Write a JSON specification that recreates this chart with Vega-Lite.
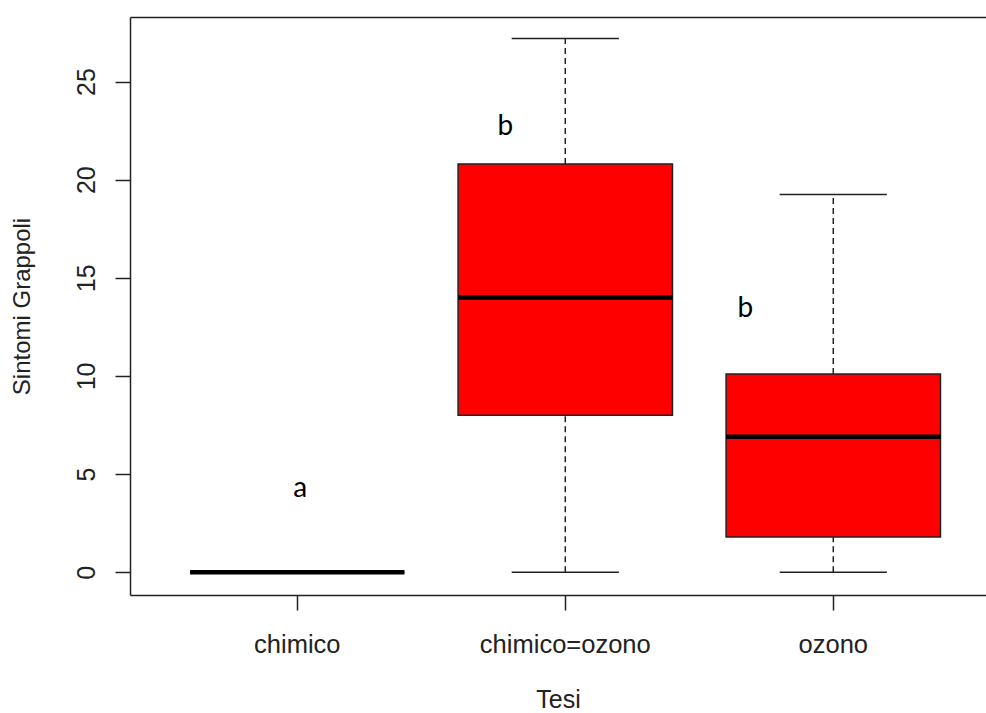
{
  "$schema": "https://vega.github.io/schema/vega-lite/v6.json",
  "autosize": {"type": "none"},
  "padding": {"left": 130, "top": 17, "right": 0, "bottom": 118},
  "width": 856,
  "height": 578,
  "background": "white",
  "datasets": {
    "boxes": [
      {"tesi": "chimico", "min": 0, "q1": 0, "median": 0, "q3": 0, "max": 0},
      {"tesi": "chimico=ozono", "min": 0, "q1": 8, "median": 14, "q3": 20.8, "max": 27.2},
      {"tesi": "ozono", "min": 0, "q1": 1.8, "median": 6.9, "q3": 10.1, "max": 19.25}
    ],
    "letters": [
      {"tesi": "chimico", "letter": "a", "y": 3.84},
      {"tesi": "chimico=ozono", "letter": "b", "y": 22.28},
      {"tesi": "ozono", "letter": "b", "y": 13.02}
    ]
  },
  "resolve": {"axis": {"x": "independent"}},
  "layer": [
    {
      "data": {"name": "boxes"},
      "mark": {"type": "rule", "color": "#222", "strokeWidth": 1.5, "strokeDash": [6, 4]},
      "encoding": {
        "x": {"field": "tesi", "type": "nominal", "sort": null,
              "scale": {"type": "band", "paddingInner": 0, "paddingOuter": 0.097, "align": 0.64},
              "axis": {"orient": "bottom", "title": "Tesi", "labelAngle": 0, "labelPadding": 22, "titlePadding": 30, "labelFontSize": 25.5, "titleFontSize": 25}},
        "y": {"field": "min", "type": "quantitative", "title": "Sintomi Grappoli",
              "scale": {"domain": [-1.16, 28.29], "nice": false, "zero": false},
              "axis": {"values": [0, 5, 10, 15, 20, 25], "labelAngle": 270, "labelAlign": "center", "labelBaseline": "bottom", "labelPadding": 16, "titlePadding": 40, "labelFontSize": 25}},
        "y2": {"field": "q1"}
      }
    },
    {
      "data": {"name": "boxes"},
      "mark": {"type": "rule", "color": "#222", "strokeWidth": 1.5, "strokeDash": [6, 4]},
      "encoding": {
        "x": {"field": "tesi", "type": "nominal", "sort": null,
              "axis": {"orient": "top", "ticks": false, "labels": false, "title": null, "domain": true}},
        "y": {"field": "q3", "type": "quantitative", "title": "Sintomi Grappoli"},
        "y2": {"field": "max"}
      }
    },
    {
      "data": {"name": "boxes"},
      "mark": {"type": "bar", "width": {"band": 0.4}, "fill": null, "fillOpacity": 0, "stroke": "#222", "strokeWidth": 1.5},
      "encoding": {
        "x": {"field": "tesi", "type": "nominal", "sort": null, "axis": null},
        "y": {"field": "min", "type": "quantitative", "title": "Sintomi Grappoli"},
        "y2": {"field": "min"}
      }
    },
    {
      "data": {"name": "boxes"},
      "mark": {"type": "bar", "width": {"band": 0.4}, "fill": null, "fillOpacity": 0, "stroke": "#222", "strokeWidth": 1.5},
      "encoding": {
        "x": {"field": "tesi", "type": "nominal", "sort": null, "axis": null},
        "y": {"field": "max", "type": "quantitative", "title": "Sintomi Grappoli"},
        "y2": {"field": "max"}
      }
    },
    {
      "data": {"name": "boxes"},
      "mark": {"type": "bar", "width": {"band": 0.8}, "fill": "#FF0000", "stroke": "#222", "strokeWidth": 1.5},
      "encoding": {
        "x": {"field": "tesi", "type": "nominal", "sort": null, "axis": null},
        "y": {"field": "q1", "type": "quantitative", "title": "Sintomi Grappoli"},
        "y2": {"field": "q3"}
      }
    },
    {
      "data": {"name": "boxes"},
      "mark": {"type": "bar", "width": {"band": 0.8}, "fill": null, "fillOpacity": 0, "stroke": "#000", "strokeWidth": 4.5},
      "encoding": {
        "x": {"field": "tesi", "type": "nominal", "sort": null, "axis": null},
        "y": {"field": "median", "type": "quantitative", "title": "Sintomi Grappoli"},
        "y2": {"field": "median"}
      }
    },
    {
      "data": {"name": "letters"},
      "transform": [{"filter": "datum.letter === 'a'"}],
      "mark": {"type": "text", "font": "Lato", "fontSize": 28, "color": "#000", "baseline": "alphabetic", "align": "center", "dx": 3},
      "encoding": {
        "x": {"field": "tesi", "type": "nominal", "sort": null, "axis": null},
        "y": {"field": "y", "type": "quantitative", "title": "Sintomi Grappoli"},
        "text": {"field": "letter"}
      }
    },
    {
      "data": {"name": "letters"},
      "transform": [{"filter": "datum.tesi === 'chimico=ozono'"}],
      "mark": {"type": "text", "font": "Lato", "fontSize": 28, "color": "#000", "baseline": "alphabetic", "align": "center", "dx": -60},
      "encoding": {
        "x": {"field": "tesi", "type": "nominal", "sort": null, "axis": null},
        "y": {"field": "y", "type": "quantitative", "title": "Sintomi Grappoli"},
        "text": {"field": "letter"}
      }
    },
    {
      "data": {"name": "letters"},
      "transform": [{"filter": "datum.tesi === 'ozono'"}],
      "mark": {"type": "text", "font": "Lato", "fontSize": 28, "color": "#000", "baseline": "alphabetic", "align": "center", "dx": -88},
      "encoding": {
        "x": {"field": "tesi", "type": "nominal", "sort": null, "axis": null},
        "y": {"field": "y", "type": "quantitative", "title": "Sintomi Grappoli"},
        "text": {"field": "letter"}
      }
    }
  ],
  "config": {
    "view": {"stroke": null},
    "font": "Liberation Sans",
    "axis": {
      "grid": false,
      "domainColor": "#222",
      "domainWidth": 1.5,
      "tickColor": "#222",
      "tickWidth": 1.5,
      "tickSize": 15,
      "labelFont": "Liberation Sans",
      "labelFontSize": 24,
      "labelColor": "#222",
      "titleFont": "Liberation Sans",
      "titleFontSize": 24,
      "titleFontWeight": "normal",
      "titleColor": "#222",
      "labelOverlap": false
    }
  }
}
